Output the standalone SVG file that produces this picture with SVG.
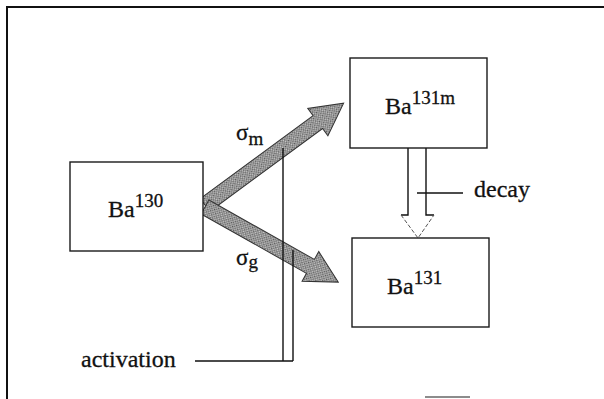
<svg xmlns="http://www.w3.org/2000/svg" width="604" height="399" viewBox="0 0 604 399">
<style>
.box{fill:#fff;stroke:#1a1a1a;stroke-width:1.4}
.t{font-family:"Liberation Serif","Times New Roman",serif;fill:#111;stroke:#111;stroke-width:0.3}
.ln{stroke:#111;stroke-width:1.4;fill:none}
.arr{fill:url(#dots);stroke:#333;stroke-width:1}
</style>
<defs>
<pattern id="dots" width="3" height="3" patternUnits="userSpaceOnUse">
<rect width="3" height="3" fill="#c8c8c8"/>
<rect width="1.5" height="1.5" fill="#555"/>
<rect x="1.5" y="1.5" width="1.5" height="1.5" fill="#6a6a6a"/>
</pattern>
</defs>
<rect width="604" height="399" fill="#fff"/>
<g id="frame">
<path d="M7,399 V7 H604" fill="none" stroke="#111" stroke-width="2"/>
<line x1="425" y1="397" x2="470" y2="397" stroke="#666" stroke-width="1.5"/>
</g>
<g id="connectors">
<path class="arr" transform="translate(205,205) rotate(-36.3)" d="M0,-8 L140,-8 L140,-17 L172,0 L140,17 L140,8 L0,8 Z"/>
<path class="arr" transform="translate(205,207) rotate(29.4)" d="M0,-8 L121,-8 L121,-17 L153,0 L121,17 L121,8 L0,8 Z"/>
<path class="ln" d="M283,148 V361 M293,250 V361 M195,361 H293"/>
<path class="ln" d="M408,148 V215 H401 M426,148 V215 H434"/>
<path d="M401,215 L418,238 L434,215" fill="none" stroke="#555" stroke-width="1" stroke-dasharray="4,2"/>
<line class="ln" x1="417" y1="193" x2="463" y2="193"/>
</g>
<g id="ba130">
<rect class="box" x="70" y="162" width="133" height="89"/>
<text class="t" x="108" y="217" font-size="24">Ba<tspan font-size="19" dy="-10">130</tspan></text>
</g>
<g id="ba131m">
<rect class="box" x="350" y="58" width="137" height="90"/>
<text class="t" x="385" y="114" font-size="24">Ba<tspan font-size="19" dy="-10">131m</tspan></text>
</g>
<g id="ba131">
<rect class="box" x="352" y="238" width="137" height="89"/>
<text class="t" x="387" y="294" font-size="24">Ba<tspan font-size="19" dy="-10">131</tspan></text>
</g>
<g id="labels">
<text class="t" x="236" y="140" font-size="23">σ<tspan font-size="19" dy="5">m</tspan></text>
<text class="t" x="236" y="265" font-size="23">σ<tspan font-size="19" dy="3">g</tspan></text>
<text class="t" x="474" y="197" font-size="24">decay</text>
<text class="t" x="81" y="367" font-size="24">activation</text>
</g>
</svg>
